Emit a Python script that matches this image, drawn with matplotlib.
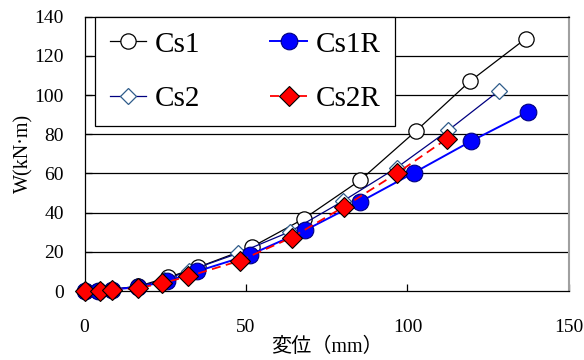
import numpy as np
import matplotlib.pyplot as plt

plt.rcParams['font.family'] = ['Liberation Serif', 'Noto Sans CJK JP']

# data
cs1_x = [0, 4.3, 8.4, 16.7, 25.9, 35.2, 51.8, 68.0, 85.3, 102.5, 119.3, 136.6]
cs1_y = [0, 0.3, 0.8, 2.5, 7.0, 12.2, 22.5, 37.0, 56.5, 81.5, 107.0, 128.8]

cs1r_x = [0, 4.3, 8.4, 16.7, 25.4, 34.7, 51.2, 68.3, 85.3, 102.1, 119.7, 137.2]
cs1r_y = [0, 0.3, 0.8, 2.0, 5.0, 10.0, 18.5, 31.0, 45.5, 60.5, 76.5, 91.3]

cs2_x = [0, 5.5, 8.4, 16.5, 24.5, 32.5, 47.6, 63.6, 80.1, 96.7, 112.6, 128.3]
cs2_y = [0, 0.3, 0.8, 2.5, 5.5, 10.5, 19.3, 30.3, 46.0, 63.0, 82.0, 102.2]

cs2r_x = [0, 4.8, 8.4, 16.7, 23.9, 32.1, 48.1, 64.1, 80.3, 96.7, 112.1]
cs2r_y = [0, 0.2, 0.5, 1.5, 4.0, 7.5, 15.5, 27.3, 43.0, 60.1, 77.6]

fig = plt.figure(figsize=(5.84, 3.6), dpi=100)
ax = fig.add_axes([0.1447, 0.1914, 0.8296, 0.7622])

# horizontal grid
for yv in range(20, 140, 20):
    ax.axhline(yv, color='black', lw=0.9, zorder=0)

l1, = ax.plot(cs1_x, cs1_y, color='black', lw=0.9, marker='o', ms=11,
              mfc='white', mec='black', mew=0.9, label='Cs1', clip_on=False, zorder=3)
l2, = ax.plot(cs2_x, cs2_y, color='#000080', lw=0.9, marker='D', ms=8.5,
              mfc='white', mec='#2E5C8A', mew=0.9, label='Cs2', clip_on=False, zorder=4)
l3, = ax.plot(cs1r_x, cs1r_y, color='#0000FF', lw=1.4, marker='o', ms=12,
              mfc='#0000FF', mec='#000080', mew=0.8, label='Cs1R', clip_on=False, zorder=5)
l4, = ax.plot(cs2r_x, cs2r_y, color='#FF0000', lw=1.3, ls=(0, (5, 3)), marker='D', ms=10,
              mfc='#FF0000', mec='black', mew=0.8, label='Cs2R', clip_on=False, zorder=6)

ax.set_xlim(0, 150)
ax.set_ylim(0, 140)
ax.set_xticks([0, 50, 100, 150])
ax.set_yticks(range(0, 141, 20))
ax.tick_params(axis='x', direction='in', length=5, width=0.9, pad=20, labelsize=14)
ax.tick_params(axis='y', direction='in', length=5, width=0.9, pad=15, labelsize=14)

for s in ['left', 'top', 'bottom']:
    ax.spines[s].set_color('black')
    ax.spines[s].set_linewidth(0.9)
ax.spines['right'].set_color('#a0a0a0')
ax.spines['right'].set_linewidth(1.5)

ax.set_xlabel('変位（mm）', fontsize=14.5)
ax.set_ylabel('W(kN·m)', fontsize=14.5)
ax.xaxis.set_label_coords(0.5, -0.17)
ax.yaxis.set_label_coords(-0.105, 0.5)

leg = fig.legend(handles=[l1, l2, l3, l4], ncol=2, loc='upper left',
                 bbox_to_anchor=(95 / 584, 1 - 16.7 / 360), borderaxespad=0,
                 fontsize=21, frameon=True, fancybox=False, edgecolor='black',
                 framealpha=1, handlelength=1.25, handletextpad=0.3,
                 columnspacing=2.4, labelspacing=0.95, borderpad=0.5)
leg.get_frame().set_linewidth(0.9)

fig.savefig('out.png', dpi=100)
